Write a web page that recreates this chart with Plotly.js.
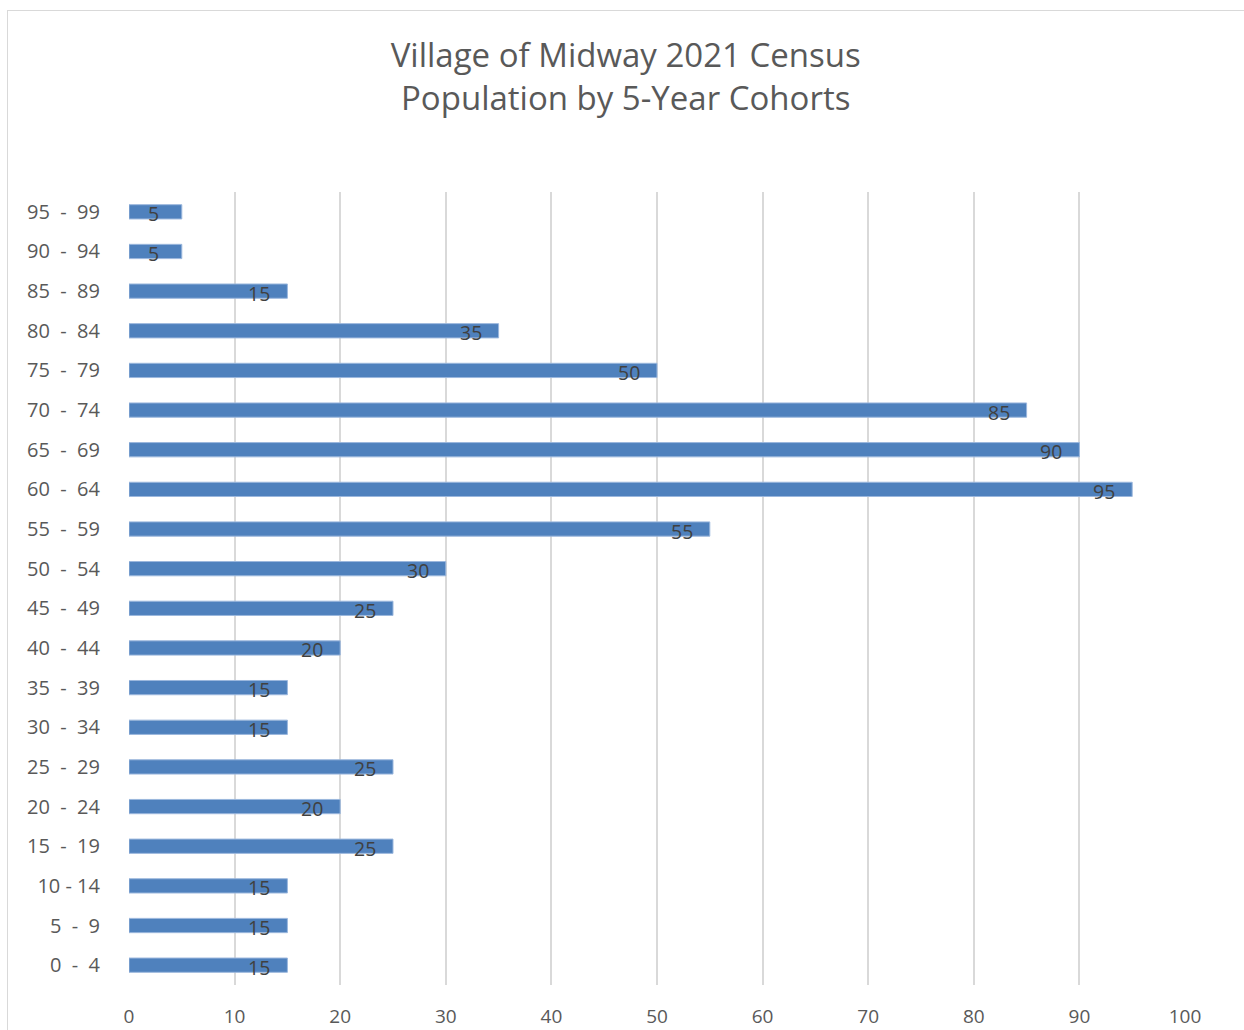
<!DOCTYPE html>
<html>
<head>
<meta charset="utf-8">
<script src="https://cdn.plot.ly/plotly-3.0.1.min.js"></script>
<style>
  html, body { margin: 0; padding: 0; background: #ffffff; }
  #frame { position: absolute; left: 7px; top: 10px; width: 1300px; height: 1100px; border: 1px solid #d9d9d9; box-sizing: border-box; }
  #chart { position: absolute; left: 0; top: 0; width: 1244px; height: 1030px; }
</style>
</head>
<body>
<div id="frame"></div>
<div id="chart"></div>
<script>
const cohortLabels = [
  "0\u00a0\u00a0-\u00a0\u00a04", "5\u00a0\u00a0-\u00a0\u00a09", "10 - 14",
  "15\u00a0\u00a0-\u00a0\u00a019", "20\u00a0\u00a0-\u00a0\u00a024", "25\u00a0\u00a0-\u00a0\u00a029",
  "30\u00a0\u00a0-\u00a0\u00a034", "35\u00a0\u00a0-\u00a0\u00a039", "40\u00a0\u00a0-\u00a0\u00a044",
  "45\u00a0\u00a0-\u00a0\u00a049", "50\u00a0\u00a0-\u00a0\u00a054", "55\u00a0\u00a0-\u00a0\u00a059",
  "60\u00a0\u00a0-\u00a0\u00a064", "65\u00a0\u00a0-\u00a0\u00a069", "70\u00a0\u00a0-\u00a0\u00a074",
  "75\u00a0\u00a0-\u00a0\u00a079", "80\u00a0\u00a0-\u00a0\u00a084", "85\u00a0\u00a0-\u00a0\u00a089",
  "90\u00a0\u00a0-\u00a0\u00a094", "95\u00a0\u00a0-\u00a0\u00a099"
];
const population = [15, 15, 15, 25, 20, 25, 15, 15, 20, 25, 30, 55, 95, 90, 85, 50, 35, 15, 5, 5];
const chartTitle = "Village of Midway 2021 Census<br>Population by 5-Year Cohorts";
const xTickValues = [0, 10, 20, 30, 40, 50, 60, 70, 80, 90, 100];

const FONT = "'Open Sans', 'Noto Sans', sans-serif";

const trace = {
  type: "bar",
  orientation: "h",
  x: population,
  y: cohortLabels,
  width: 0.36,
  marker: { color: "#4f81bd", line: { color: "#9bb7dd", width: 1 } },
  hoverinfo: "none"
};

const annotations = population.map((v, i) => ({
  x: v, y: cohortLabels[i], xref: "x", yref: "y",
  text: String(v), showarrow: false,
  xanchor: "center", yanchor: "middle",
  xshift: -28, yshift: -2,
  font: { family: FONT, size: 19.5, color: "#404040" }
}));

const layout = {
  width: 1244, height: 1030,
  paper_bgcolor: "rgba(0,0,0,0)",
  plot_bgcolor: "rgba(0,0,0,0)",
  margin: { l: 129, r: 59, t: 192, b: 45 },
  title: {
    text: chartTitle,
    x: 0.503, xref: "container", xanchor: "center",
    y: 1 - 67 / 1030, yref: "container", yanchor: "middle",
    font: { family: FONT, size: 33, color: "#595959" }
  },
  showlegend: false,
  xaxis: {
    range: [0, 100],
    tickvals: xTickValues,
    showgrid: true, gridcolor: "#d9d9d9", gridwidth: 2,
    zeroline: false, showline: false,
    ticks: "",
    ticklabelstandoff: 18,
    tickfont: { family: FONT, size: 19, color: "#595959" },
    fixedrange: true
  },
  yaxis: {
    type: "category",
    showgrid: false, zeroline: false, showline: false,
    ticks: "",
    ticklabelstandoff: 28,
    tickfont: { family: FONT, size: 20, color: "#595959" },
    fixedrange: true
  },
  annotations: annotations
};

Plotly.newPlot("chart", [trace], layout, { displayModeBar: false, staticPlot: true });
</script>
</body>
</html>
